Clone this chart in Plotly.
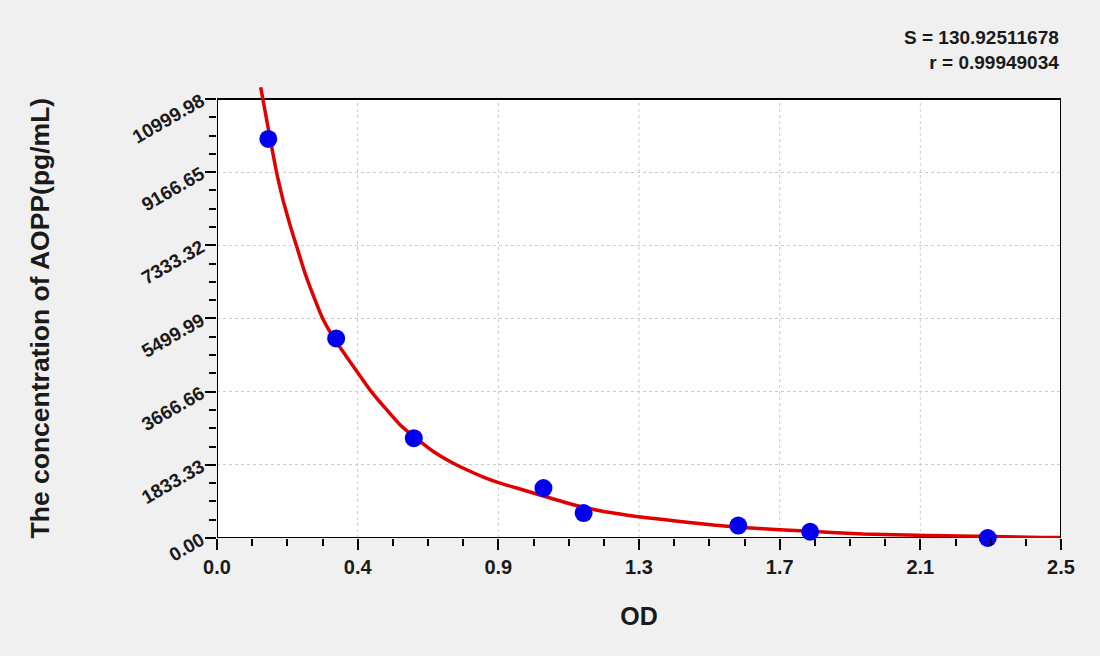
import plotly.graph_objects as go

# standards (OD vs concentration)
od = [0.152, 0.353, 0.583, 0.967, 1.086, 1.544, 1.757, 2.283]
conc = [10000, 5000, 2500, 1250, 625, 312.5, 156.25, 0]

# fitted curve
curve_od = [0.1294, 0.1585, 0.1768, 0.1964, 0.2192, 0.2361, 0.2607, 0.2903, 0.3149, 0.3495,
            0.4582, 0.5421, 0.6013, 0.6407, 0.6902, 0.7396, 0.7888, 0.8383, 0.8877, 0.9369,
            0.9864, 1.0752, 1.1739, 1.2728, 1.3714, 1.4701, 1.5690, 1.6677, 1.7565, 1.9135,
            2.1020, 2.2986, 2.4467, 2.4970]
curve_conc = [11293, 9956, 9140, 8440, 7760, 7302, 6636, 5967, 5466, 4965,
              3656, 2837, 2419, 2168, 1918, 1710, 1527, 1377, 1252, 1127,
              1002, 790, 626, 508, 416, 326, 258, 208, 168, 100,
              65, 40, 15, 10]

x_ticks = [0, 2.5 / 6, 2.5 * 2 / 6, 2.5 * 3 / 6, 2.5 * 4 / 6, 2.5 * 5 / 6, 2.5]
x_labels = ['0.0', '0.4', '0.9', '1.3', '1.7', '2.1', '2.5']
y_ticks = [0, 1833.33, 3666.66, 5499.99, 7333.32, 9166.65, 10999.98]
y_labels = ['0.00', '1833.33', '3666.66', '5499.99', '7333.32', '9166.65', '10999.98']

x_max = 2.5
y_max = 10999.98

font = 'Arial, Liberation Sans, sans-serif'
bg = '#f0f0f0'
ink = '#1a1a1a'

fig = go.Figure()
fig.add_trace(go.Scatter(x=curve_od, y=curve_conc, mode='lines',
                         line=dict(color='rgb(225,0,0)', width=3.5, shape='spline', smoothing=0.4),
                         hoverinfo='skip'))
fig.add_trace(go.Scatter(x=od, y=conc, mode='markers', cliponaxis=False,
                         marker=dict(color='rgb(0,0,238)', size=18, line=dict(width=0))))

# white plot box (range goes a bit above the box so the curve can poke out)
fig.add_shape(type='rect', xref='x', yref='y', x0=0, x1=x_max, y0=0, y1=y_max,
              fillcolor='white', line_width=0, layer='below')
for xv in x_ticks[1:-1]:
    fig.add_shape(type='line', xref='x', yref='y', x0=xv, x1=xv, y0=0, y1=y_max,
                  line=dict(color='#cccccc', width=1, dash='dot'), layer='below')
fig.add_shape(type='rect', xref='x', yref='y', x0=0, x1=x_max, y0=0, y1=y_max,
              line=dict(color='black', width=2), layer='between')

fig.add_annotation(text='<b>S = 130.92511678<br>r = 0.99949034</b>', xref='paper', yref='paper',
                   x=1, y=1, xanchor='right', yanchor='bottom', align='right', yshift=8,
                   showarrow=False, font=dict(family=font, size=19, color=ink))

# y title, centred on the box rather than on the whole (taller) range
fig.add_annotation(text='The concentration of AOPP(pg/mL)', textangle=-90,
                   xref='paper', yref='y', x=0, y=y_max / 2, xanchor='center', yanchor='middle',
                   xshift=-177, showarrow=False,
                   font=dict(family=font, size=26.5, color=ink, weight='bold'))

fig.update_layout(
    width=1100, height=656,
    paper_bgcolor=bg, plot_bgcolor=bg,
    showlegend=False,
    margin=dict(l=217, r=39, t=83, b=118),
    xaxis=dict(range=[0, x_max], tickmode='array', tickvals=x_ticks, ticktext=x_labels,
               showgrid=False, zeroline=False, showline=False,
               ticks='outside', ticklen=11, tickwidth=2, tickcolor='black',
               minor=dict(tickmode='linear', tick0=0, dtick=x_max / 24, ticks='outside',
                          ticklen=7, tickwidth=2, tickcolor='black', showgrid=False),
               tickfont=dict(family=font, size=20, color=ink, weight='bold'),
               title=dict(text='OD', font=dict(family=font, size=25, color=ink, weight='bold'),
                          standoff=30)),
    yaxis=dict(range=[0, 11400], tickmode='array', tickvals=y_ticks, ticktext=y_labels,
               showgrid=True, gridcolor='#cccccc', griddash='dot', gridwidth=1,
               zeroline=False, showline=False, tickangle=-30,
               ticks='outside', ticklen=11, tickwidth=2, tickcolor='black',
               minor=dict(tickmode='linear', tick0=0, dtick=y_max / 24, ticks='outside',
                          ticklen=7, tickwidth=2, tickcolor='black', showgrid=False),
               tickfont=dict(family=font, size=19, color=ink, weight='bold')),
)

fig.write_html('out.html', config={'displayModeBar': False},
               post_script="document.body.style.margin='0';document.body.style.background='%s';" % bg)
